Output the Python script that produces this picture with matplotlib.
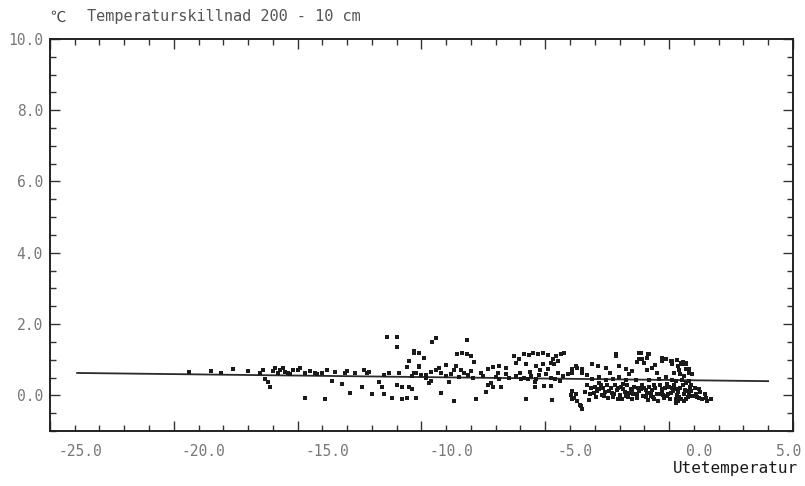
"""
Temperaturskillnad 200 - 10 cm mot utetemperatur (skannad plotterutskrift)
"""
import numpy as np
import matplotlib
matplotlib.use("Agg")
import matplotlib.pyplot as plt
import matplotlib.ticker as mticker
from matplotlib.transforms import ScaledTranslation

plt.rcParams['font.family'] = ['DejaVu Sans Mono', 'Noto Sans CJK JP']

# ─── data ────────────────────────────────────────────
# (utetemperatur, temperaturskillnad)
cold_pts = [
    (-19.4, 0.66), (-18.5, 0.68), (-18.1, 0.62), (-17.6, 0.74), (-17.0, 0.68),
    (-16.5, 0.64), (-16.4, 0.72), (-16.3, 0.45), (-16.2, 0.37), (-16.1, 0.23),
    (-16.0, 0.68), (-15.9, 0.76), (-15.8, 0.62), (-15.7, 0.70), (-15.6, 0.78),
    (-15.5, 0.66), (-15.4, 0.64), (-15.3, 0.60), (-15.2, 0.72), (-15.0, 0.70),
    (-14.9, 0.76), (-14.7, 0.62), (-14.7, -0.06), (-14.5, 0.68), (-14.3, 0.64),
    (-14.2, 0.60), (-14.0, 0.64), (-13.9, -0.10), (-13.8, 0.70), (-13.6, 0.40),
    (-13.5, 0.66), (-13.2, 0.31), (-13.1, 0.62), (-13.0, 0.68), (-12.9, 0.08),
    (-12.7, 0.62), (-12.4, 0.23), (-12.3, 0.70), (-12.2, 0.62), (-12.1, 0.66),
    (-12.0, 0.03),
]
mid_pts = [
    (-11.7, 0.39), (-11.6, 0.25), (-11.5, 0.03), (-11.5, 0.58), (-11.4, 1.63),
    (-11.3, 0.64), (-11.2, -0.06), (-11.0, 1.63), (-11.0, 1.35), (-11.0, 0.28),
    (-10.9, 0.62), (-10.8, 0.23), (-10.8, -0.11), (-10.6, 0.79), (-10.6, -0.07),
    (-10.5, 0.23), (-10.5, 0.97), (-10.4, 0.17), (-10.4, 0.55), (-10.3, 1.24),
    (-10.3, 1.20), (-10.3, 0.62), (-10.2, 0.62), (-10.2, -0.06), (-10.1, 1.18),
    (-10.1, 0.83), (-10.1, 0.79), (-10.0, 0.58), (-9.9, 1.04), (-9.8, 0.58),
    (-9.8, 0.50), (-9.7, 0.35), (-9.6, 0.66), (-9.6, 0.40), (-9.56, 1.50),
    (-9.4, 1.60), (-9.4, 0.70), (-9.3, 0.78), (-9.2, 0.62), (-9.2, 0.08),
    (-9.0, 0.55), (-9.0, 0.85), (-8.9, 0.38), (-8.8, 0.60), (-8.7, 0.70),
    (-8.7, -0.16), (-8.6, 0.82), (-8.55, 1.15), (-8.5, 0.52), (-8.4, 0.72),
    (-8.35, 1.18), (-8.3, 0.62), (-8.15, 1.55), (-8.15, 1.15), (-8.1, 0.58),
    (-8.0, 1.10), (-8.0, 0.68), (-7.9, 0.50), (-7.86, 0.93), (-7.8, -0.11),
    (-7.6, 0.62), (-7.5, 0.55), (-7.4, 0.11), (-7.33, 0.73), (-7.3, 0.30),
    (-7.2, 0.35), (-7.1, 0.23), (-7.1, 0.80), (-7.0, 0.52), (-6.9, 0.64),
    (-6.85, 0.83), (-6.85, 0.45), (-6.8, 0.25), (-6.6, 0.60), (-6.58, 0.78),
    (-6.45, 0.50), (-6.25, 1.11), (-6.18, 0.92), (-6.18, 0.54), (-6.05, 1.02),
    (-6.0, 0.62), (-5.98, 0.45), (-5.85, 1.16), (-5.85, 0.50), (-5.78, 0.87),
    (-5.78, -0.11), (-5.7, 0.45), (-5.65, 1.13), (-5.6, 0.66), (-5.57, 0.54),
    (-5.5, 1.20), (-5.4, 0.23), (-5.4, 0.37), (-5.38, 0.83), (-5.38, 0.47),
    (-5.31, 1.16), (-5.24, 0.56), (-5.2, 0.70), (-5.1, 1.18), (-5.1, 0.87),
    (-5.04, 0.26), (-4.97, 0.59), (-4.9, 1.13), (-4.9, 0.75), (-4.77, 0.92),
    (-4.77, 0.50), (-4.77, 0.26), (-4.74, -0.13), (-4.7, 1.02), (-4.64, 0.87),
    (-4.6, 0.45), (-4.57, 1.11), (-4.5, 0.97), (-4.5, 0.64), (-4.4, 0.40),
    (-4.37, 1.16), (-4.3, 0.54), (-4.23, 1.18), (-4.1, 0.59),
]
warm_pts = [
    (-3.97, 0.00), (-3.9, 0.73), (-3.9, 0.12), (-3.9, 0.64), (-3.9, -0.11),
    (-3.84, -0.07), (-3.77, 0.05), (-3.76, 0.83), (-3.7, 0.78), (-3.7, -0.16),
    (-3.6, -0.28), (-3.56, -0.30), (-3.5, -0.39), (-3.5, 0.64), (-3.5, 0.73),
    (-3.3, 0.30), (-3.3, 0.56), (-3.2, 0.05), (-3.16, 0.22), (-3.1, 0.87),
    (-3.1, 0.47), (-3.02, 0.08), (-3.0, 0.25), (-2.95, -0.05), (-2.9, 0.12),
    (-2.89, 0.83), (-2.82, 0.17), (-2.82, 0.51), (-2.75, 0.30), (-2.7, 0.00),
    (-2.65, 0.20), (-2.62, -0.02), (-2.55, 0.78), (-2.55, 0.42), (-2.5, 0.28),
    (-2.45, -0.08), (-2.42, 0.12), (-2.4, 0.62), (-2.35, 0.22), (-2.3, 0.08),
    (-2.28, 0.47), (-2.22, 0.03), (-2.2, 0.30), (-2.15, 1.11), (-2.15, 1.16),
    (-2.1, 0.15), (-2.08, -0.11), (-2.02, 0.83), (-2.02, 0.51), (-2.0, 0.02),
    (-1.95, 0.25), (-1.9, -0.10), (-1.88, 0.17), (-1.8, 0.10), (-1.75, 0.73),
    (-1.75, 0.42), (-1.75, -0.02), (-1.7, 0.28), (-1.65, -0.05), (-1.61, 0.08),
    (-1.6, 0.60), (-1.55, 0.18), (-1.48, 0.68), (-1.48, -0.11), (-1.45, 0.05),
    (-1.4, 0.25), (-1.34, 0.44), (-1.3, -0.08), (-1.3, 0.95), (-1.28, 0.03),
    (-1.21, 1.20), (-1.21, 1.02), (-1.2, 0.12), (-1.14, 0.17), (-1.14, 1.20),
    (-1.1, 0.30), (-1.08, 1.01), (-1.05, -0.02), (-1.0, 0.90), (-1.0, 0.20),
    (-0.94, -0.05), (-0.9, 0.08), (-0.9, 0.70), (-0.9, 1.05), (-0.87, 1.16),
    (-0.85, -0.12), (-0.81, 1.15), (-0.81, 0.42), (-0.8, 0.25), (-0.74, 0.08),
    (-0.7, 0.15), (-0.68, 0.78), (-0.65, -0.05), (-0.6, -0.11), (-0.55, 0.22),
    (-0.55, 0.85), (-0.5, 0.05), (-0.5, 0.62), (-0.45, -0.15), (-0.4, 0.03),
    (-0.4, 0.47), (-0.35, 0.28), (-0.3, 0.10), (-0.27, 0.97), (-0.27, 1.06),
    (-0.27, 0.17), (-0.2, -0.08), (-0.15, 0.20), (-0.13, 1.01), (-0.13, 0.51),
    (-0.07, -0.02), (-0.05, 0.05), (0.0, 0.25), (0.05, -0.10), (0.07, 0.97),
    (0.07, 0.08), (0.13, 0.87), (0.13, 0.97), (0.13, 0.44), (0.15, 0.12),
    (0.2, 0.30), (0.2, 0.62), (0.27, 0.17), (0.27, 0.40), (0.27, -0.21),
    (0.27, -0.11), (0.3, 0.02), (0.3, 1.00), (0.34, 0.83), (0.34, -0.16),
    (0.4, -0.05), (0.4, 0.70), (0.45, 0.20), (0.45, 0.60), (0.47, 0.92),
    (0.5, -0.10), (0.54, 0.87), (0.54, 0.42), (0.55, 0.28), (0.55, 0.95),
    (0.6, 0.03), (0.6, 0.55), (0.65, 0.15), (0.67, 0.73), (0.67, 0.87),
    (0.67, -0.11), (0.7, 0.35), (0.7, 0.92), (0.74, 0.12), (0.75, -0.05),
    (0.81, 0.64), (0.81, 0.73), (0.81, 0.40), (0.81, 0.08), (0.85, 0.25),
    (0.9, 0.12), (0.94, 0.59), (0.94, -0.02), (1.0, -0.02), (1.05, 0.20),
    (1.1, 0.05), (1.14, -0.05), (1.21, -0.07), (1.25, 0.10), (1.34, -0.11),
    (1.5, -0.07), (1.54, -0.16), (1.7, -0.11),
    (-3.4, 0.10), (-3.25, -0.12), (-2.85, 0.35), (-2.6, 0.10), (-2.25, -0.05),
    (-2.05, 0.20), (-1.85, 0.32), (-1.5, 0.12), (-1.25, 0.22), (-0.95, 0.15),
    (-0.75, -0.02), (-0.6, 0.30), (-0.25, 0.02), (-0.1, 0.32), (0.1, 0.20),
    (0.35, 0.10), (0.6, -0.15), (0.9, 0.30), (1.2, 0.18), (1.45, 0.05),
]

# medelvärdeslinje
line_x = [-23.9, 4.0]
line_y = [0.63, 0.40]

x_ticks = [-25.0, -20.0, -15.0, -10.0, -5.0, 0.0, 5.0]
y_ticks = [0.0, 2.0, 4.0, 6.0, 8.0, 10.0]

# ─── figur ─────────────────────────────────────────
fig = plt.figure(figsize=(8.05, 4.86), dpi=100)
ax = fig.add_axes([0.062, 0.113, 0.923, 0.807])
fig.patch.set_facecolor('white')

for pts in (cold_pts, mid_pts, warm_pts):
    arr = np.array(pts)
    ax.scatter(arr[:, 0], arr[:, 1], s=7, marker='s', color='#1a1a1a',
               linewidths=0, zorder=3)

ax.plot(line_x, line_y, color='#2a2a2a', linewidth=1.3, zorder=2)

ax.set_xlim(-25, 5)
ax.set_ylim(-1, 10)

ax.xaxis.set_major_locator(mticker.FixedLocator(x_ticks))
ax.xaxis.set_minor_locator(mticker.MultipleLocator(1.0))
ax.yaxis.set_major_locator(mticker.FixedLocator(y_ticks))
ax.yaxis.set_minor_locator(mticker.MultipleLocator(0.5))
ax.xaxis.set_major_formatter(mticker.FuncFormatter(lambda v, _: f'{v:.1f}'))
ax.yaxis.set_major_formatter(mticker.FuncFormatter(lambda v, _: f'{v:.1f}'))

ax.tick_params(which='both', direction='in', top=True, right=True,
               color='#333333', width=1.0)
ax.tick_params(which='major', length=7, labelsize=10.5, labelcolor='#777777')
ax.tick_params(which='minor', length=4)
ax.tick_params(axis='x', which='major', pad=9)
ax.tick_params(axis='y', which='major', pad=5)

for sp in ax.spines.values():
    sp.set_color('#222222')
    sp.set_linewidth(1.4)

# plotterns x-etiketter ligger förskjutna åt höger
for lbl, v in zip(ax.get_xticklabels(), x_ticks):
    dx = -4 if v == 5.0 else 30
    lbl.set_transform(lbl.get_transform() + ScaledTranslation(dx / 100, 0, fig.dpi_scale_trans))

fig.text(50 / 805, 1 - 17 / 486, '℃', fontsize=11, color='#444444',
         ha='left', va='center')
fig.text(87 / 805, 1 - 17 / 486, 'Temperaturskillnad 200 - 10 cm', fontsize=11,
         color='#555555', ha='left', va='center')
fig.text(798 / 805, 1 - 468 / 486, 'Utetemperatur', fontsize=11.5,
         color='#1a1a1a', ha='right', va='center')

plt.savefig('out.png', dpi=100, facecolor='white')
plt.close()
